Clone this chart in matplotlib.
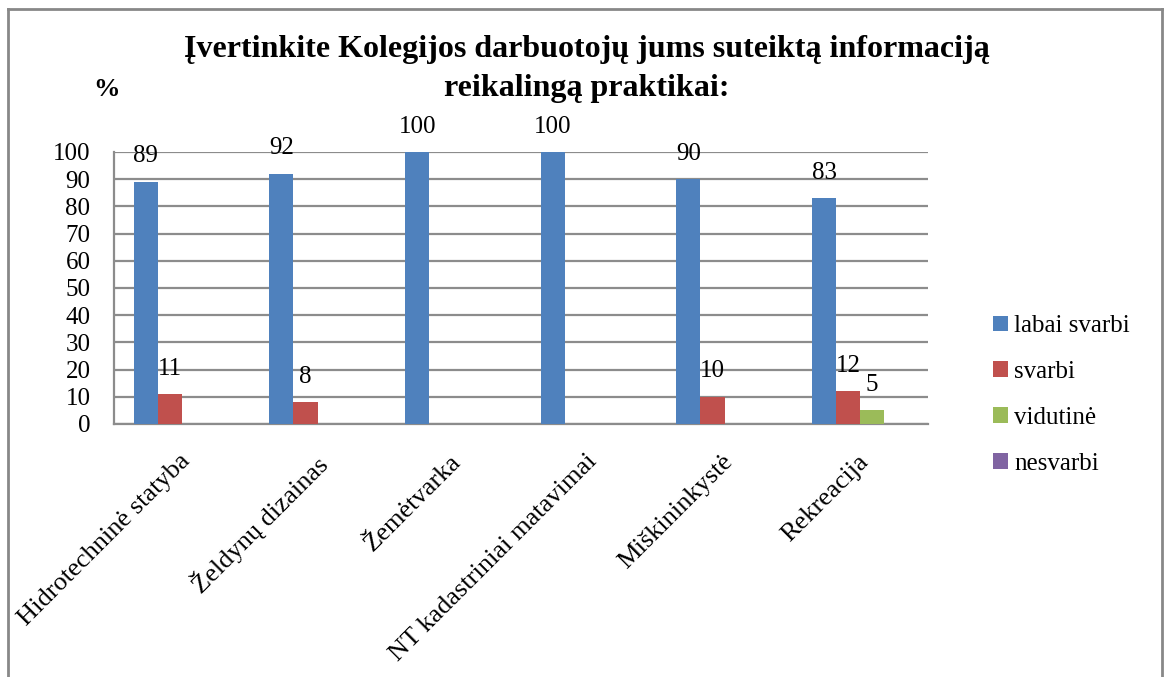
import matplotlib
matplotlib.use("Agg")
import matplotlib.pyplot as plt
import matplotlib.transforms as mtransforms
from matplotlib.lines import Line2D
from matplotlib.patches import Patch
import numpy as np

plt.rcParams['font.family'] = ['Liberation Serif', 'DejaVu Serif']

categories = ['Hidrotechninė statyba', 'Želdynų dizainas', 'Žemėtvarka',
              'NT kadastriniai matavimai', 'Miškininkystė', 'Rekreacija']
series_names = ['labai svarbi', 'svarbi', 'vidutinė', 'nesvarbi']
labai_svarbi = [89, 92, 100, 100, 90, 83]
svarbi = [11, 8, 0, 0, 10, 12]
vidutine = [0, 0, 0, 0, 0, 5]
nesvarbi = [0, 0, 0, 0, 0, 0]
colors = ['#4F81BD', '#C0504D', '#9BBB59', '#8064A2']

title = 'Įvertinkite Kolegijos darbuotojų jums suteiktą informaciją\nreikalingą praktikai:'

W, H = 1168, 677
fig = plt.figure(figsize=(W / 100, H / 100), dpi=100)
ax = fig.add_axes([114 / W, 1 - 424 / H, (928 - 114) / W, (424 - 152) / H])

grid_c = '#8c8c8c'
x = np.arange(len(categories))
bw = 0.177
all_series = [labai_svarbi, svarbi, vidutine, nesvarbi]
for i, (vals, name, c) in enumerate(zip(all_series, series_names, colors)):
    pos = x + (i - 1.5) * bw
    ax.bar(pos, vals, width=bw, color=c, zorder=3, label=name)
    for p, v in zip(pos, vals):
        if v > 0:
            ax.annotate(str(v), (p, v), xytext=(0, 14), textcoords='offset points',
                        ha='center', va='baseline', fontsize=18)

ax.set_xlim(-0.5, len(categories) - 0.5)
ax.set_ylim(0, 100)
ax.set_yticks(range(0, 101, 10))
ax.yaxis.grid(True, color=grid_c, linewidth=1.6, zorder=0)
ax.set_axisbelow(True)
for s in ['top', 'right']:
    ax.spines[s].set_visible(False)
for s in ['left', 'bottom']:
    ax.spines[s].set_color(grid_c)
    ax.spines[s].set_linewidth(1.6)
ax.tick_params(axis='y', length=0, pad=17, labelsize=18)
ax.tick_params(axis='x', length=0, pad=19, labelsize=19)
ax.set_xticks(x)
ax.set_xticklabels(categories, rotation=45, ha='right', va='top',
                   rotation_mode='anchor')
offset = mtransforms.ScaledTranslation(-3 / 100, 0, fig.dpi_scale_trans)
for lbl in ax.get_xticklabels():
    lbl.set_transform(lbl.get_transform() + offset)

fig.text(587 / W, 1 - 69 / H, title, ha='center', va='center',
         fontsize=23, fontweight='bold', linespacing=1.45)
fig.text(107 / W, 1 - 90 / H, '%', ha='center', va='center',
         fontsize=19, fontweight='bold')

handles = [Patch(facecolor=c, edgecolor='none') for c in colors]
fig.legend(handles, series_names, loc='center left',
           bbox_to_anchor=(993 / W, 1 - 395 / H), frameon=False,
           fontsize=18, handlelength=0.6, handleheight=0.6,
           handletextpad=0.25, labelspacing=0.95, borderpad=0, borderaxespad=0)

# frame around the chart
fc = '#888888'
fig.add_artist(Line2D([8 / W, 8 / W], [0, 1 - 9 / H], color=fc, lw=2))
fig.add_artist(Line2D([8 / W, 1162 / W], [1 - 9 / H, 1 - 9 / H], color=fc, lw=2))
fig.add_artist(Line2D([1162 / W, 1162 / W], [0, 1 - 9 / H], color=fc, lw=2))

fig.savefig('out.png', dpi=100)
